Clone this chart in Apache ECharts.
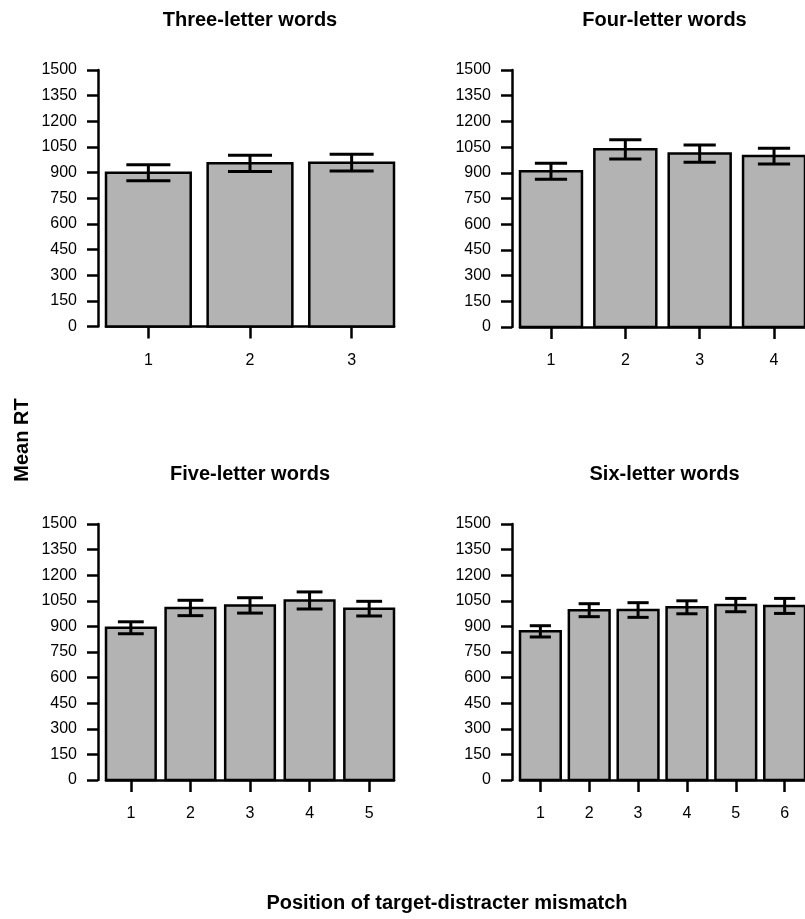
<!DOCTYPE html>
<html>
<head>
<meta charset="utf-8">
<script src="https://cdn.jsdelivr.net/npm/echarts@6/dist/echarts.min.js"></script>
<style>
html,body{margin:0;padding:0;background:#fff;}
#c{width:805px;height:919px;}
</style>
</head>
<body>
<div id="c"></div>
<script>
// ---- data ----
const yTicks = [0,150,300,450,600,750,900,1050,1200,1350,1500];
const threeCats = [1,2,3];
const threeMean = [899, 954, 958];
const threeErr  = [47, 47, 49];
const fourCats = [1,2,3,4];
const fourMean = [909, 1037, 1012, 998];
const fourErr  = [47, 56, 50, 46];
const fiveCats = [1,2,3,4,5];
const fiveMean = [892, 1008, 1023, 1052, 1004];
const fiveErr  = [35, 45, 45, 50, 43];
const sixCats = [1,2,3,4,5,6];
const sixMean = [871, 995, 996, 1012, 1025, 1020];
const sixErr  = [33, 38, 43, 38, 39, 44];
const titles = ['Three-letter words','Four-letter words','Five-letter words','Six-letter words'];
const yTitle = 'Mean RT';
const xTitle = 'Position of target-distracter mismatch';

// ---- layout ----
const BAR = 1/1.2;        // bar width relative to pitch (R barplot space=0.2)
const CAP = 0.52 * BAR;   // error bar cap width
const panels = [
  {cats: threeCats, mean: threeMean, err: threeErr, left:106, width:288, top:70,  height:256.5},
  {cats: fourCats,  mean: fourMean,  err: fourErr,  left:520, width:289, top:70,  height:257},
  {cats: fiveCats,  mean: fiveMean,  err: fiveErr,  left:106, width:288, top:524, height:256},
  {cats: sixCats,   mean: sixMean,   err: sixErr,   left:520, width:289, top:524, height:256}
];
const FONT = '"Liberation Sans", Arial, Helvetica, sans-serif';
const LW = 2.5;

const grids=[], xAxes=[], yAxes=[], series=[], graphics=[];
panels.forEach((p,i)=>{
  grids.push({left:p.left, top:p.top, width:p.width, height:p.height});
  const n = p.cats.length;
  xAxes.push({
    type:'value', gridIndex:i, min: 1 - BAR/2, max: n + BAR/2,
    splitLine:{show:false},
    axisLine:{show:true, onZero:false, lineStyle:{color:'#000', width:LW}},
    axisTick:{show:true, customValues:p.cats, length:12, inside:false, lineStyle:{color:'#000', width:LW}},
    axisLabel:{show:true, customValues:p.cats, margin:26, color:'#000', fontSize:16, fontFamily:FONT,
      formatter:(v)=>String(Math.round(v))}
  });
  yAxes.push({
    type:'value', gridIndex:i, min:0, max:1500, interval:150, offset:8,
    splitLine:{show:false},
    axisLine:{show:true, lineStyle:{color:'#000', width:LW}},
    axisTick:{show:true, length:11, lineStyle:{color:'#000', width:LW}},
    axisLabel:{margin:21, color:'#000', fontSize:16, fontFamily:FONT,
      formatter:(v)=>String(v)}
  });
  const data = p.cats.map((c,k)=>[c, p.mean[k], p.err[k]]);
  series.push({
    type:'custom', xAxisIndex:i, yAxisIndex:i, data:data, z:2,
    renderItem:(params, api)=>{
      const x = api.value(0), y = api.value(1);
      const p0 = api.coord([x - BAR/2, 0]);
      const p1 = api.coord([x + BAR/2, y]);
      return {type:'rect', shape:{x:p0[0], y:p1[1], width:p1[0]-p0[0], height:p0[1]-p1[1]},
        style:{fill:'#b3b3b3', stroke:'#000', lineWidth:LW}};
    }
  });
  series.push({
    type:'custom', xAxisIndex:i, yAxisIndex:i, data:data, z:3,
    renderItem:(params, api)=>{
      const x = api.value(0), y = api.value(1), e = api.value(2);
      const hi = api.coord([x, y+e]), lo = api.coord([x, y-e]);
      const l = api.coord([x - CAP/2, y])[0], r = api.coord([x + CAP/2, y])[0];
      const st = {stroke:'#000', lineWidth:3};
      return {type:'group', children:[
        {type:'line', shape:{x1:hi[0], y1:hi[1], x2:lo[0], y2:lo[1]}, style:st},
        {type:'line', shape:{x1:l, y1:hi[1], x2:r, y2:hi[1]}, style:st},
        {type:'line', shape:{x1:l, y1:lo[1], x2:r, y2:lo[1]}, style:st}
      ]};
    }
  });
  graphics.push({type:'text', x: p.left + p.width/2, y: p.top - 50,
    style:{text:titles[i], textAlign:'center', textVerticalAlign:'middle',
      font:'bold 20px ' + FONT, fill:'#000'}});
});
graphics.push({type:'text', x:22, y:440, rotation:Math.PI/2,
  style:{text:yTitle, textAlign:'center', textVerticalAlign:'middle', font:'bold 20px ' + FONT, fill:'#000'}});
graphics.push({type:'text', x:447, y:903,
  style:{text:xTitle, textAlign:'center', textVerticalAlign:'middle', font:'bold 20px ' + FONT, fill:'#000'}});

const chart = echarts.init(document.getElementById('c'), null, {renderer:'canvas'});
chart.setOption({
  animation:false,
  backgroundColor:'#fff',
  grid:grids, xAxis:xAxes, yAxis:yAxes, series:series, graphic:graphics
});
</script>
</body>
</html>
